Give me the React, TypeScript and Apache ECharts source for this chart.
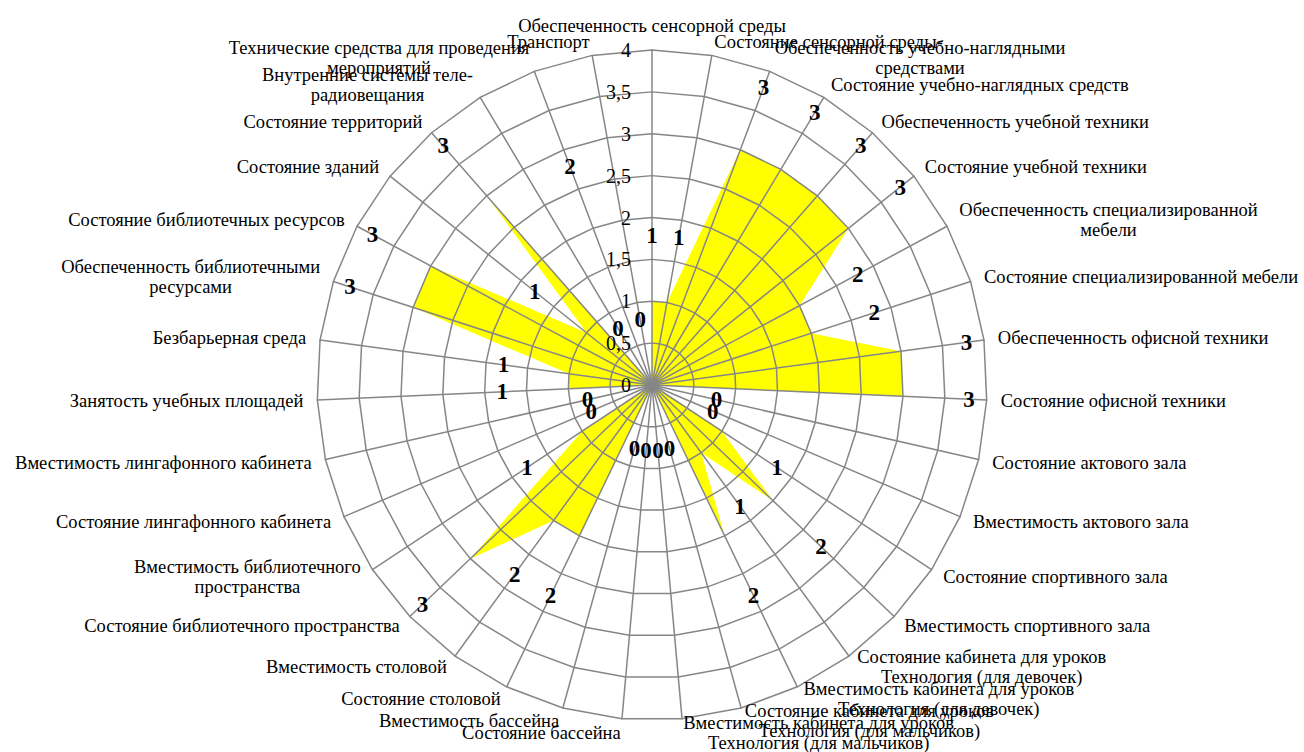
import React, { useEffect, useRef } from "react";
import * as echarts from "echarts";

const categories: string[] = [
  "Обеспеченность сенсорной среды",
  "Состояние сенсорной среды-",
  "Обеспеченность учебно-наглядными\nсредствами",
  "Состояние учебно-наглядных средств",
  "Обеспеченность учебной техники",
  "Состояние учебной техники",
  "Обеспеченность специализированной\nмебели",
  "Состояние специализированной мебели",
  "Обеспеченность офисной техники",
  "Состояние офисной техники",
  "Состояние актового зала",
  "Вместимость актового зала",
  "Состояние спортивного зала",
  "Вместимость спортивного зала",
  "Состояние кабинета для уроков\nТехнология (для девочек)",
  "Вместимость кабинета для уроков\nТехнология (для девочек)",
  "Состояние кабинета для уроков\nТехнология (для мальчиков)",
  "Вместимость кабинета для уроков\nТехнология (для мальчиков)",
  "Состояние бассейна",
  "Вместимость бассейна",
  "Состояние столовой",
  "Вместимость столовой",
  "Состояние библиотечного пространства",
  "Вместимость библиотечного\nпространства",
  "Состояние лингафонного кабинета",
  "Вместимость лингафонного кабинета",
  "Занятость учебных площадей",
  "Безбарьерная среда",
  "Обеспеченность библиотечными\nресурсами",
  "Состояние библиотечных ресурсов",
  "Состояние зданий",
  "Состояние территорий",
  "Внутренние системы теле-\nрадиовещания",
  "Технические средства для проведения\nмероприятий",
  "Транспорт",
];

// filled (yellow) polygon values, clockwise from the top
const fillValues: number[] = [
  1, 1, 3, 3, 3, 3, 2, 2, 3, 3, 0, 0, 1, 2, 1, 2, 0, 0, 0, 0,
  2, 2, 3, 1, 0, 0, 1, 1, 3, 3, 1, 3, 0, 0, 0,
];

// data labels as printed on the chart
const labelValues: number[] = [
  1, 1, 3, 3, 3, 3, 2, 2, 3, 3, 0, 0, 1, 2, 1, 2, 0, 0, 0, 0,
  2, 2, 3, 1, 0, 0, 1, 1, 3, 3, 1, 3, 0, 2, 0,
];

const axisMin = 0;
const axisMax = 4;
const axisStep = 0.5;

const FONT = '"Liberation Serif", "Times New Roman", serif';
const LABEL_OFFSET = 0.79; // data labels sit a little outside their point

export default function App() {
  const ref = useRef<HTMLDivElement>(null);

  useEffect(() => {
    if (!ref.current) return;
    const chart = echarts.init(ref.current, undefined, { renderer: "svg" });
    const n = categories.length;
    // ECharts radar runs counter-clockwise; reorder so it reads clockwise
    const order = [0, ...Array.from({ length: n - 1 }, (_, k) => n - 1 - k)];

    const indicator = order.map((i, k) => {
      const base: any = { name: categories[i], min: axisMin, max: axisMax };
      if (k === 0) {
        base.axisLabel = {
          show: true,
          fontFamily: FONT,
          fontSize: 20,
          color: "#000",
          margin: 21,
          formatter: (v: number) => String(v).replace(".", ","),
        };
      }
      return base;
    });

    chart.setOption({
      animation: false,
      backgroundColor: "#fff",
      radar: {
        center: [652, 385],
        radius: 335,
        startAngle: 90,
        splitNumber: (axisMax - axisMin) / axisStep,
        shape: "polygon",
        z: 3,
        nameGap: 14,
        indicator,
        axisName: {
          color: "#000",
          fontFamily: FONT,
          fontSize: 18.5,
          formatter: (name: string) =>
            name
              .split("\n")
              .map((l) => `{c|${l}}`)
              .join("\n"),
          rich: {
            c: {
              align: "center",
              fontFamily: FONT,
              fontSize: 18.5,
              color: "#000",
              lineHeight: 20,
            },
          },
        },
        axisLine: { lineStyle: { color: "#868686", width: 1.5 } },
        splitLine: { lineStyle: { color: "#868686", width: 1.5 } },
        splitArea: { show: false },
        axisTick: { show: false },
        axisLabel: { show: false },
      },
      series: [
        {
          type: "radar",
          z: 2,
          symbol: "none",
          silent: true,
          lineStyle: { width: 0, color: "#FFFF00" },
          areaStyle: { color: "#FFFF00", opacity: 1 },
          data: [{ value: order.map((i) => fillValues[i]) }],
        },
        {
          type: "radar",
          z: 4,
          symbol: "circle",
          symbolSize: 1,
          silent: true,
          lineStyle: { width: 0, opacity: 0 },
          itemStyle: { color: "rgba(0,0,0,0)" },
          label: {
            show: true,
            position: "inside",
            fontFamily: FONT,
            fontWeight: "bold",
            fontSize: 23,
            color: "#000",
            formatter: (p: any) => {
              const d = p.dimensionIndex;
              if (d != null) return String(labelValues[order[d]]);
              return String(Math.round(p.value - LABEL_OFFSET));
            },
          },
          data: [{ value: order.map((i) => labelValues[i] + LABEL_OFFSET) }],
        },
      ],
    });
    return () => chart.dispose();
  }, []);

  return (
    <div
      ref={ref}
      style={{ position: "fixed", left: 0, top: 0, width: 1304, height: 752 }}
    />
  );
}
